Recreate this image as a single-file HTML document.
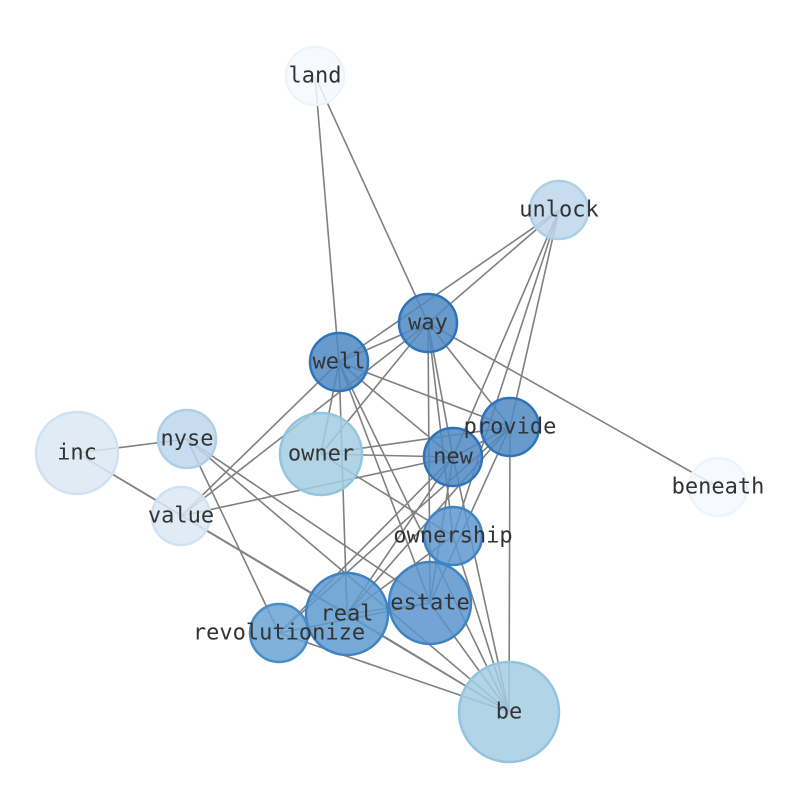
<!DOCTYPE html>
<html><head><style>body{margin:0;background:#fff}</style></head><body>
<svg width="794" height="790" xmlns="http://www.w3.org/2000/svg">
<g stroke="#808080" stroke-width="1.6">
<line x1="315" y1="76" x2="339" y2="362"/>
<line x1="315" y1="76" x2="428" y2="323"/>
<line x1="559" y1="210" x2="428" y2="323"/>
<line x1="559" y1="210" x2="339" y2="362"/>
<line x1="559" y1="210" x2="453" y2="457"/>
<line x1="559" y1="210" x2="510" y2="427"/>
<line x1="559" y1="210" x2="453" y2="536"/>
<line x1="428" y1="323" x2="339" y2="362"/>
<line x1="428" y1="323" x2="181" y2="516"/>
<line x1="428" y1="323" x2="321" y2="454"/>
<line x1="428" y1="323" x2="453" y2="457"/>
<line x1="428" y1="323" x2="453" y2="536"/>
<line x1="428" y1="323" x2="430" y2="603"/>
<line x1="428" y1="323" x2="718" y2="487"/>
<line x1="428" y1="323" x2="510" y2="427"/>
<line x1="339" y1="362" x2="510" y2="427"/>
<line x1="339" y1="362" x2="181" y2="516"/>
<line x1="339" y1="362" x2="321" y2="454"/>
<line x1="339" y1="362" x2="347" y2="614"/>
<line x1="339" y1="362" x2="430" y2="603"/>
<line x1="339" y1="362" x2="509" y2="712"/>
<line x1="339" y1="362" x2="453" y2="457"/>
<line x1="510" y1="427" x2="321" y2="454"/>
<line x1="510" y1="427" x2="453" y2="457"/>
<line x1="510" y1="427" x2="347" y2="614"/>
<line x1="510" y1="427" x2="279" y2="633"/>
<line x1="510" y1="427" x2="509" y2="712"/>
<line x1="510" y1="427" x2="430" y2="603"/>
<line x1="453" y1="457" x2="321" y2="454"/>
<line x1="453" y1="457" x2="181" y2="516"/>
<line x1="453" y1="457" x2="279" y2="633"/>
<line x1="453" y1="457" x2="347" y2="614"/>
<line x1="453" y1="457" x2="430" y2="603"/>
<line x1="453" y1="457" x2="509" y2="712"/>
<line x1="77" y1="453" x2="187" y2="439"/>
<line x1="77" y1="453" x2="347" y2="614"/>
<line x1="77" y1="453" x2="509" y2="712"/>
<line x1="187" y1="439" x2="279" y2="633"/>
<line x1="187" y1="439" x2="430" y2="603"/>
<line x1="187" y1="439" x2="509" y2="712"/>
<line x1="321" y1="454" x2="453" y2="536"/>
<line x1="453" y1="536" x2="347" y2="614"/>
<line x1="453" y1="536" x2="509" y2="712"/>
<line x1="347" y1="614" x2="509" y2="712"/>
<line x1="347" y1="614" x2="430" y2="603"/>
<line x1="430" y1="603" x2="509" y2="712"/>
<line x1="279" y1="633" x2="509" y2="712"/>
<line x1="279" y1="633" x2="430" y2="603"/>
</g>
<g stroke-width="2.5" fill-opacity="0.85">
<circle cx="315" cy="76" r="29" fill="#f4f8fd" stroke="#eef4fb"/>
<circle cx="559" cy="210" r="29" fill="#bdd7ec" stroke="#aecfe8"/>
<circle cx="718" cy="487" r="29" fill="#f4f8fd" stroke="#eef4fb"/>
<circle cx="77" cy="453" r="41" fill="#dbe7f4" stroke="#d0e1f2"/>
<circle cx="187" cy="439" r="29" fill="#bdd7ec" stroke="#aecfe8"/>
<circle cx="181" cy="516" r="29" fill="#dbe7f4" stroke="#d0e1f2"/>
<circle cx="321" cy="454" r="41" fill="#a3cde3" stroke="#93c4e0"/>
<circle cx="509" cy="712" r="50" fill="#a3cde3" stroke="#93c4e0"/>
<circle cx="428" cy="323" r="29" fill="#4f88c3" stroke="#2f74b8"/>
<circle cx="339" cy="362" r="29" fill="#4f88c3" stroke="#2f74b8"/>
<circle cx="510" cy="427" r="29" fill="#4f88c3" stroke="#2f74b8"/>
<circle cx="453" cy="457" r="29" fill="#4f88c3" stroke="#2f74b8"/>
<circle cx="453" cy="536" r="29" fill="#5f98cf" stroke="#3f83c2"/>
<circle cx="430" cy="603" r="41" fill="#5a94cc" stroke="#3f83c2"/>
<circle cx="347" cy="614" r="41" fill="#5f9ad0" stroke="#3f83c2"/>
<circle cx="279" cy="633" r="29" fill="#68a3d3" stroke="#4a8dc8"/>
</g>
<g font-family="DejaVu Sans Mono, Liberation Mono, monospace" font-size="22" fill="#333" text-anchor="middle" dominant-baseline="central">
<text x="315" y="76">land</text><text x="559" y="210">unlock</text><text x="428" y="323">way</text><text x="339" y="362">well</text><text x="510" y="427">provide</text><text x="453" y="457">new</text><text x="77" y="453">inc</text><text x="187" y="439">nyse</text><text x="321" y="454">owner</text><text x="181" y="516">value</text><text x="718" y="487">beneath</text><text x="453" y="536">ownership</text><text x="430" y="603">estate</text><text x="347" y="614">real</text><text x="279" y="633">revolutionize</text><text x="509" y="712">be</text>
</g>
</svg>
</body></html>
